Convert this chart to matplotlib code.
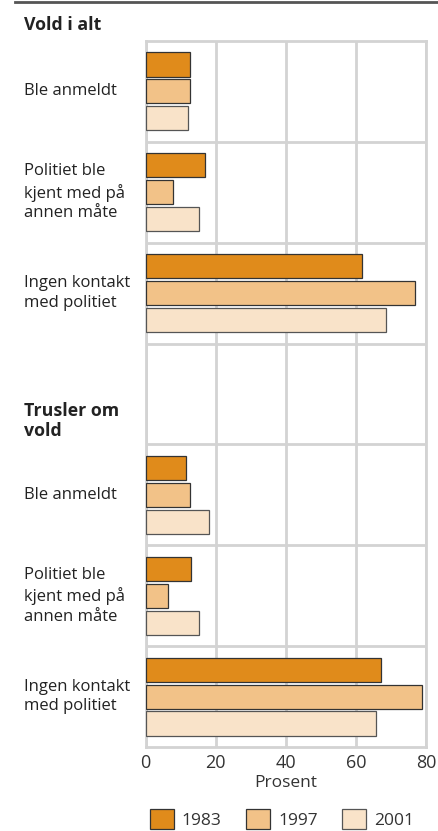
import matplotlib
matplotlib.use("Agg")
import matplotlib.pyplot as plt
from matplotlib.patches import Patch
from matplotlib.lines import Line2D
import matplotlib.transforms as mtransforms
import numpy as np

plt.rcParams['font.family'] = ['Open Sans', 'DejaVu Sans']

# ---- data ----
group_titles = ["Vold i alt", "Trusler om\nvold"]
categories = ["Ble anmeldt", "Politiet ble\nkjent med på\nannen måte", "Ingen kontakt\nmed politiet"]
years = ["1983", "1997", "2001"]
vold_1983 = [12.7, 16.9, 61.8]
vold_1997 = [12.6, 7.9, 77.0]
vold_2001 = [12.0, 15.4, 68.7]
trusler_1983 = [11.6, 13.0, 67.2]
trusler_1997 = [12.8, 6.4, 78.9]
trusler_2001 = [18.2, 15.3, 65.8]
xticks = [0, 20, 40, 60, 80]
xlabel = "Prosent"

colors = ["#E08B1B", "#F2C288", "#F9E3C9"]
edges = ["#333333", "#333333", "#555555"]
text_color = "#222222"
grid_color = "#D3D3D3"

W, H = 438, 831
fig = plt.figure(figsize=(W / 100, H / 100), dpi=100)
ax = fig.add_axes([145.5 / W, 1 - 747 / H, (426 - 145.5) / W, (747 - 41) / H])

slots_v = [0, 1, 2]
slots_t = [4, 5, 6]
offsets = [-0.267, 0.0, 0.267]
bh = 0.238

series_v = [vold_1983, vold_1997, vold_2001]
series_t = [trusler_1983, trusler_1997, trusler_2001]
for i in range(3):
    ax.barh(np.array(slots_v) + offsets[i], series_v[i], height=bh,
            color=colors[i], edgecolor=edges[i], linewidth=0.9, zorder=3)
    ax.barh(np.array(slots_t) + offsets[i], series_t[i], height=bh,
            color=colors[i], edgecolor=edges[i], linewidth=0.9, zorder=3)

ax.set_xlim(0, 80)
ax.set_ylim(6.5, -0.5)
ax.set_xticks(xticks)
ax.set_xticklabels([str(t) for t in xticks], fontsize=13, color="#333333")
ax.set_yticks([])
ax.set_yticks(np.arange(0.5, 6.5, 1.0), minor=True)
ax.tick_params(axis='both', which='both', length=0)
ax.tick_params(axis='x', pad=5)
ax.grid(True, axis='x', which='major', color=grid_color, linewidth=2.0, zorder=0)
ax.grid(True, axis='y', which='minor', color=grid_color, linewidth=2.0, zorder=0)
for s in ax.spines.values():
    s.set_color(grid_color)
    s.set_linewidth(2.0)
ax.set_xlabel(xlabel, fontsize=12.5, color="#333333", labelpad=2)

trans = mtransforms.blended_transform_factory(fig.transFigure, ax.transData)
lx = 24 / W
for slots in (slots_v, slots_t):
    for s, lab in zip(slots, categories):
        ax.text(lx, s, lab, transform=trans, ha='left', va='center',
                fontsize=12, color=text_color, linespacing=1.3)
ax.text(lx, -0.66, group_titles[0], transform=trans, ha='left', va='center',
        fontsize=12.8, fontweight='bold', color=text_color)
ax.text(lx, 3.27, group_titles[1], transform=trans, ha='left', va='center',
        fontsize=12.8, fontweight='bold', color=text_color, linespacing=1.15)

fig.add_artist(Line2D([15 / W, 1.0], [1 - 1.5 / H, 1 - 1.5 / H], color="#555555",
                      linewidth=2.0, transform=fig.transFigure))

handles = [Patch(facecolor=colors[i], edgecolor=edges[i], linewidth=0.9) for i in range(3)]
fig.legend(handles, years, loc='center', bbox_to_anchor=(282 / W, 1 - 819 / H),
           ncol=3, frameon=False, fontsize=12.5, handlelength=1.4, handleheight=1.4,
           handletextpad=0.45, columnspacing=1.4, labelcolor="#333333")

fig.savefig("out.png", dpi=100)
